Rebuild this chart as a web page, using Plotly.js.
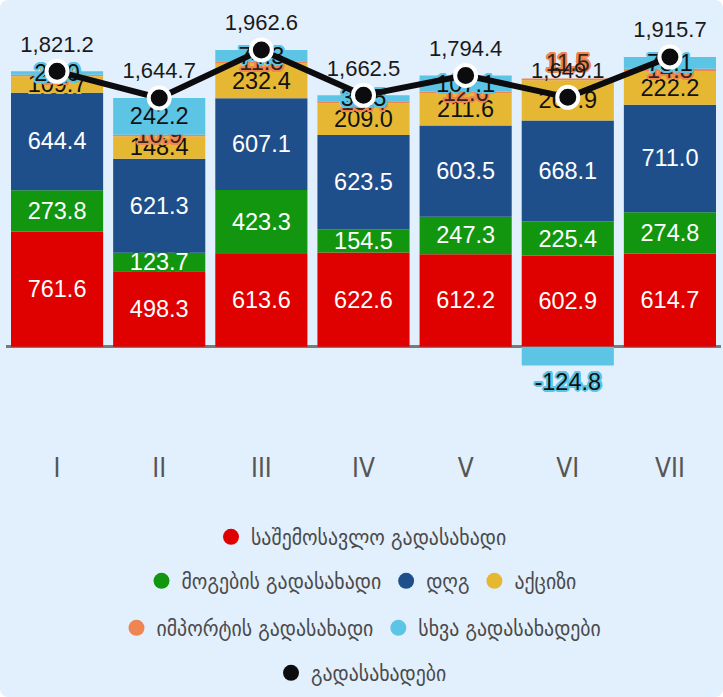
<!DOCTYPE html>
<html>
<head>
<meta charset="utf-8">
<script src="https://cdn.plot.ly/plotly-3.0.1.min.js"></script>
<style>
  html, body { margin: 0; padding: 0; background: #ffffff; }
  #wrap { width: 723px; height: 697px; background: #e2effc; border-radius: 8px; overflow: hidden; }
  #chart { width: 723px; height: 697px; }
</style>
</head>
<body>
<div id="wrap"><div id="chart"></div></div>
<script>
// ---- data ----
const categories = ["I", "II", "III", "IV", "V", "VI", "VII"];
const incomeTax = [761.6, 498.3, 613.6, 622.6, 612.2, 602.9, 614.7];
const profitTax = [273.8, 123.7, 423.3, 154.5, 247.3, 225.4, 274.8];
const vat = [644.4, 621.3, 607.1, 623.5, 603.5, 668.1, 711.0];
const excise = [109.7, 148.4, 232.4, 209.0, 211.6, 265.9, 222.2];
const importTax = [8.7, 10.9, 11.8, 13.4, 12.6, 11.5, 14.8];
const otherTaxes = [23.0, 242.2, 74.3, 39.5, 107.1, -124.8, 78.1];
const totalTaxes = [1821.2, 1644.7, 1962.6, 1662.5, 1794.4, 1649.1, 1915.7];

const seriesNames = {
  income: "საშემოსავლო გადასახადი",
  profit: "მოგების გადასახადი",
  vat: "დღგ",
  excise: "აქციზი",
  importT: "იმპორტის გადასახადი",
  other: "სხვა გადასახადები",
  total: "გადასახადები"
};

const colors = {
  income: "#df0000",
  profit: "#12960f",
  vat: "#1e4f8b",
  excise: "#e5b732",
  importT: "#ef8550",
  other: "#5cc5e6",
  total: "#0c0c0e"
};

const FONT = "Liberation Sans, Arial, DejaVu Sans, sans-serif";

function halo(c) {
  const o = [];
  const r = 2;
  for (let a = 0; a < 16; a++) {
    const t = a / 16 * Math.PI * 2;
    o.push((r * Math.cos(t)).toFixed(2) + "px " + (r * Math.sin(t)).toFixed(2) + "px 0 " + c);
  }
  return o.join(", ");
}

function barTrace(key, values, textColor, outline, positions) {
  return {
    type: "bar",
    name: seriesNames[key],
    x: categories,
    y: values,
    marker: { color: colors[key], line: { width: 0 } },
    text: values.map(v => v.toFixed(1)),
    textposition: positions || "inside",
    insidetextanchor: "middle",
    textangle: 0,
    constraintext: "none",
    cliponaxis: false,
    textfont: { family: FONT, size: 23.5, color: textColor, shadow: outline ? halo(colors[key]) : "none" },
    hoverinfo: "skip",
    showlegend: false,
    legendgroup: key
  };
}

function legendDummy(key, legendId) {
  return {
    type: "scatter",
    mode: "markers",
    name: seriesNames[key],
    x: [null],
    y: [null],
    marker: { color: colors[key], size: 16, symbol: "circle" },
    legend: legendId,
    legendgroup: key,
    showlegend: true,
    hoverinfo: "skip"
  };
}

// label placement: negative / top-of-stack small values shown outside the bar
const importPos = importTax.map((v, i) => (otherTaxes[i] < 0 ? "outside" : "inside"));
const otherPos = otherTaxes.map(v => (v < 0 ? "outside" : "inside"));

const traces = [
  barTrace("income", incomeTax, "#ffffff", false),
  barTrace("profit", profitTax, "#ffffff", true),
  barTrace("vat", vat, "#ffffff", false),
  barTrace("excise", excise, "#111111", true),
  barTrace("importT", importTax, "#3a2518", true, importPos),
  barTrace("other", otherTaxes, "#111111", true, otherPos),
  {
    type: "scatter",
    mode: "lines+markers+text",
    name: seriesNames.total,
    x: categories,
    y: totalTaxes,
    line: { color: colors.total, width: 6 },
    marker: { color: colors.total, size: 21, line: { color: "#ffffff", width: 4 } },
    texttemplate: "%{y:,.1f}",
    textposition: "top center",
    textfont: { family: FONT, size: 22, color: "#1a1a1a" },
    cliponaxis: false,
    hoverinfo: "skip",
    showlegend: false,
    legendgroup: "total"
  },
  legendDummy("income", "legend"),
  legendDummy("profit", "legend2"),
  legendDummy("vat", "legend2"),
  legendDummy("excise", "legend2"),
  legendDummy("importT", "legend3"),
  legendDummy("other", "legend3"),
  legendDummy("total", "legend4")
];

function legendAt(yPix) {
  return {
    orientation: "h",
    x: 0.5, xanchor: "center", xref: "container",
    y: 1 - yPix / 697, yanchor: "middle", yref: "container",
    bgcolor: "rgba(0,0,0,0)",
    font: { family: "DejaVu Sans Condensed, DejaVu Sans, sans-serif", size: 22, color: "#4a4a4a" },
    traceorder: "normal",
    itemclick: false, itemdoubleclick: false
  };
}

const pxPerUnit = 0.1512;
const zeroPix = 346.7;
const plotBottom = 450;

const layout = {
  width: 723,
  height: 697,
  paper_bgcolor: "rgba(0,0,0,0)",
  plot_bgcolor: "rgba(0,0,0,0)",
  margin: { l: 6, r: 2, t: 0, b: 697 - plotBottom },
  barmode: "relative",
  bargap: 0.098,
  font: { family: FONT },
  xaxis: {
    type: "category",
    showgrid: false,
    showline: false,
    zeroline: false,
    ticks: "",
    tickfont: { family: "Liberation Sans Narrow, DejaVu Sans Condensed, Arial Narrow, sans-serif", size: 26, color: "#555555" },
    fixedrange: true
  },
  yaxis: {
    range: [-(plotBottom - zeroPix) / pxPerUnit, zeroPix / pxPerUnit],
    showgrid: false,
    showticklabels: false,
    zeroline: true,
    zerolinecolor: "#7a7a7a",
    zerolinewidth: 2.5,
    fixedrange: true
  },
  uniformtext: { mode: "show", minsize: 23.5 },
  legend: legendAt(537),
  legend2: legendAt(581),
  legend3: legendAt(628),
  legend4: legendAt(673),
  showlegend: true
};

Plotly.newPlot("chart", traces, layout, { displayModeBar: false, staticPlot: true });
</script>
</body>
</html>
